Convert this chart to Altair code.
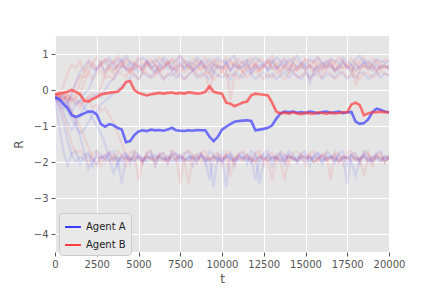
import altair as alt
import pandas as pd

# main lines sampled every 250 steps
t_main = list(range(0, 20001, 250))
agent_a = [-0.20, -0.25, -0.38, -0.50, -0.70, -0.75, -0.70, -0.65, -0.60, -0.60,
           -0.68, -0.95, -1.02, -0.95, -0.98, -1.05, -1.10, -1.45, -1.42, -1.25,
           -1.15, -1.12, -1.14, -1.10, -1.12, -1.11, -1.13, -1.10, -1.05, -1.12,
           -1.13, -1.14, -1.12, -1.13, -1.11, -1.12, -1.12, -1.30, -1.42, -1.30,
           -1.10, -1.02, -0.95, -0.88, -0.86, -0.85, -0.84, -0.86, -1.12, -1.10,
           -1.08, -1.05, -0.98, -0.80, -0.65, -0.60, -0.62, -0.60, -0.63, -0.61,
           -0.64, -0.60, -0.62, -0.65, -0.61, -0.60, -0.63, -0.62, -0.60, -0.64,
           -0.62, -0.61, -0.88, -0.94, -0.92, -0.82, -0.62, -0.52, -0.55, -0.60,
           -0.62]
agent_b = [-0.12, -0.10, -0.08, -0.05, 0.00, -0.05, -0.12, -0.30, -0.32, -0.25,
           -0.20, -0.12, -0.10, -0.08, -0.06, -0.05, 0.05, 0.22, 0.25, 0.00,
           -0.08, -0.12, -0.15, -0.12, -0.10, -0.08, -0.10, -0.08, -0.07, -0.10,
           -0.08, -0.10, -0.06, -0.08, -0.10, -0.09, -0.05, 0.10, -0.05, -0.08,
           -0.10, -0.35, -0.38, -0.45, -0.40, -0.35, -0.32, -0.15, -0.10, -0.12,
           -0.13, -0.15, -0.35, -0.60, -0.65, -0.63, -0.66, -0.62, -0.65, -0.67,
           -0.63, -0.65, -0.66, -0.62, -0.64, -0.66, -0.63, -0.65, -0.64, -0.62,
           -0.62, -0.40, -0.35, -0.42, -0.70, -0.65, -0.62, -0.62, -0.60, -0.62,
           -0.62]

# faint individual runs, evenly spaced over 0..20000
runs_b = {
    "T1": [-0.15,-0.1,0.1,0.45,0.7,0.6,0.8,0.5,0.65,0.75,0.55,0.7,0.85,0.6,0.45,0.7,0.65,0.8,0.55,0.6,0.75,0.5,0.65,0.8,0.7,0.55,0.6,0.75,0.85,0.6,0.5,0.7,0.65,0.55,0.8,0.6,0.7,0.45,0.65,0.75,0.6,0.7,0.55,0.8,0.65,0.5,0.7,0.6,0.75,0.55,0.65,0.8,0.6,0.7,0.5,0.65,0.75,0.6,0.55,0.7,0.85,0.6,0.65,0.5,0.7,0.6,0.75,0.55,0.65,0.8,0.6,0.7,0.1,0.55,0.65,0.75,0.6,0.5,0.7,0.65,0.6],
    "T2": [-0.2,-0.15,-0.25,-0.1,-0.3,-0.2,-0.1,0.2,0.5,0.7,0.6,0.75,0.5,0.65,0.8,0.55,0.7,0.6,0.45,0.75,0.65,0.55,0.8,0.6,0.7,0.5,0.65,0.75,0.6,0.55,0.7,0.8,0.6,0.65,0.5,0.75,0.6,-0.1,0.5,0.7,0.65,0.55,0.8,0.6,0.7,0.5,0.65,0.75,0.6,0.55,0.7,0.6,0.8,0.65,0.5,0.7,0.6,0.75,0.55,0.65,0.6,0.7,0.5,0.75,0.6,0.65,0.8,0.55,0.7,0.6,0.65,0.5,0.75,0.6,0.7,0.55,0.65,0.8,0.6,0.7,0.6],
    "T3": [-0.1,-0.2,-0.3,-0.15,-0.4,-0.3,-0.5,-0.3,-0.2,-0.1,-0.2,0.1,0.4,0.65,0.55,0.7,0.8,0.6,0.5,0.7,0.65,0.55,0.75,0.6,0.45,0.7,0.6,0.8,0.55,0.65,0.7,0.5,0.6,0.75,0.65,0.55,0.7,0.6,0.8,0.6,0.5,0.7,-0.3,0.4,0.65,0.75,0.55,0.6,0.7,0.5,0.65,0.8,0.6,0.55,0.7,0.65,0.5,0.75,0.6,0.7,0.55,0.65,0.8,0.6,0.5,0.7,0.6,0.75,0.55,0.65,0.7,0.6,0.5,0.75,0.65,0.6,0.7,0.55,0.65,0.6,0.7],
    "T6": [-0.1,-0.2,-0.1,-0.3,-0.1,0.2,0.4,0.35,0.5,0.3,0.45,0.55,0.35,0.4,0.3,0.5,0.45,0.35,0.6,0.4,0.3,0.45,0.5,0.35,0.4,0.55,0.3,0.45,0.4,0.5,0.35,0.3,0.45,0.55,0.4,0.35,0.5,0.45,0.3,0.4,0.55,0.35,0.45,0.4,0.3,0.5,0.35,0.45,0.55,0.4,0.3,0.45,0.35,0.5,0.4,0.3,0.45,0.55,0.35,0.4,0.5,0.3,0.45,0.4,0.35,0.55,0.45,0.3,0.4,0.5,0.35,0.45,0.4,0.3,0.5,0.45,0.35,0.4,0.55,0.45,0.4],
    "T9": [-0.15,-0.2,-0.1,-0.3,-0.2,-0.1,0.2,0.5,0.8,0.75,0.9,0.7,0.85,0.8,0.75,0.95,0.7,0.85,0.8,0.75,0.9,0.7,0.8,0.85,0.75,0.9,0.8,0.7,0.85,0.75,0.95,0.8,0.7,0.85,0.8,0.75,0.9,0.7,0.85,0.8,0.75,0.9,0.8,0.7,0.85,0.75,0.8,0.9,0.7,0.85,0.8,0.75,0.95,0.7,0.8,0.85,0.75,0.9,0.8,0.7,0.85,0.8,0.75,0.9,0.7,0.8,0.85,0.75,0.9,0.8,0.7,0.85,0.75,0.8,0.9,0.7,0.85,0.8,0.75,0.85,0.8],
    "U4": [-0.15,-0.2,-0.3,-0.4,-0.6,-0.8,-1.0,-1.3,-1.6,-1.9,-2.1,-1.85,-1.9,-2.0,-1.8,-1.95,-1.85,-1.9,-2.0,-1.8,-2.5,-1.9,-1.85,-1.95,-1.9,-1.8,-2.0,-1.85,-1.9,-1.95,-1.8,-1.9,-2.0,-1.85,-1.9,-1.8,-1.95,-1.9,-1.85,-2.0,-1.9,-1.8,-2.4,-1.85,-1.9,-1.95,-1.8,-1.9,-2.0,-1.85,-1.9,-1.95,-2.5,-1.85,-1.9,-2.0,-1.8,-1.9,-1.95,-1.85,-1.9,-1.8,-2.0,-1.9,-1.85,-1.95,-1.9,-1.8,-2.0,-1.85,-1.9,-1.95,-1.85,-1.9,-2.4,-1.8,-1.95,-1.9,-1.85,-2.0,-1.9],
    "U5": [-0.2,-0.1,-0.25,-0.15,-0.3,-0.2,-0.4,-0.3,-0.2,-0.5,-0.4,-0.6,-0.5,-0.7,-0.9,-1.2,-1.5,-1.8,-1.95,-1.85,-1.9,-2.0,-1.8,-1.9,-1.95,-1.85,-1.9,-2.0,-1.8,-1.9,-1.85,-1.95,-2.6,-1.9,-1.8,-2.0,-1.85,-1.9,-1.95,-1.8,-1.9,-1.85,-2.0,-1.9,-1.8,-1.95,-1.85,-1.9,-2.0,-1.8,-1.9,-1.95,-1.85,-1.9,-2.0,-2.5,-1.85,-1.9,-1.95,-1.8,-1.9,-1.85,-2.0,-1.9,-1.8,-1.95,-1.85,-1.9,-2.0,-1.85,-1.9,-1.8,-1.95,-1.9,-1.85,-2.0,-1.9,-1.8,-1.95,-1.85,-1.9],
    "U6": [-0.2,-0.4,-0.7,-1.1,-1.5,-1.75,-1.7,-1.8,-2.05,-1.75,-1.7,-2.1,-1.8,-1.75,-2.0,-1.7,-1.8,-2.1,-1.75,-1.7,-1.85,-2.05,-1.75,-1.7,-2.1,-1.8,-1.75,-2.0,-1.7,-1.8,-2.6,-1.75,-1.7,-1.85,-2.05,-1.75,-1.7,-2.0,-1.8,-1.75,-2.1,-1.7,-1.8,-2.05,-1.75,-1.7,-1.85,-2.0,-1.75,-1.7,-2.1,-1.8,-1.75,-2.0,-1.7,-1.8,-2.05,-1.75,-1.7,-1.85,-2.1,-1.75,-1.7,-2.0,-1.8,-1.75,-2.5,-1.7,-1.8,-2.05,-1.75,-1.7,-1.85,-2.0,-1.75,-1.7,-2.1,-1.8,-1.75,-2.0,-1.8],
}
runs_a = {
    "T4": [-0.2,-0.3,-0.2,-0.4,-0.1,0.2,0.5,0.65,0.8,0.6,0.55,0.7,0.5,0.75,0.6,0.65,0.85,0.55,0.6,0.7,0.5,0.65,0.75,0.6,0.7,0.55,0.8,0.6,0.65,0.5,0.7,0.6,0.75,0.55,0.65,0.8,0.6,0.7,0.5,0.65,0.6,0.75,0.55,0.7,0.6,0.65,0.8,0.5,0.7,0.6,0.75,0.55,0.65,0.6,0.7,0.85,0.6,0.5,0.65,0.75,0.6,0.7,0.55,0.65,0.6,0.8,0.7,0.55,0.6,0.75,0.65,0.5,0.7,0.6,0.8,0.65,0.55,0.7,0.6,0.65,0.6],
    "T5": [-0.2,-0.4,-0.6,-0.9,-1.1,-0.9,-0.7,-0.5,-0.3,-0.2,-0.1,-0.2,0.0,0.2,0.3,0.5,0.65,0.6,0.75,0.55,0.7,0.6,0.8,0.65,0.5,0.7,0.6,0.75,0.55,0.65,0.8,0.6,0.7,0.55,0.65,0.75,0.6,0.5,0.7,0.65,0.6,0.8,0.55,0.7,0.6,0.65,0.75,0.5,0.6,0.7,0.65,0.55,0.8,0.6,0.7,0.6,0.5,0.75,0.65,0.6,0.7,0.2,0.55,0.65,0.75,0.6,0.7,0.5,0.65,0.8,0.6,0.7,0.55,0.65,0.75,0.6,0.7,0.55,0.65,0.7,0.6],
    "T7": [-0.2,-0.3,-0.5,-0.4,-0.6,-0.4,-0.3,-0.1,0.0,0.3,0.6,0.8,0.75,0.9,0.7,0.85,0.8,0.95,0.75,0.7,0.85,0.9,0.8,0.7,0.85,0.75,0.9,0.8,0.7,0.85,0.95,0.75,0.8,0.7,0.9,0.8,0.75,0.85,0.7,0.9,0.8,0.75,0.85,0.95,0.7,0.8,0.85,0.75,0.9,0.8,0.7,0.85,0.75,0.9,0.8,0.7,0.85,0.8,0.95,0.75,0.7,0.85,0.8,0.9,0.75,0.7,0.85,0.8,0.75,0.9,0.8,0.7,0.85,0.95,0.75,0.8,0.7,0.85,0.8,0.75,0.8],
    "T8": [-0.2,-0.3,-0.45,-0.6,-0.8,-1.0,-1.2,-1.1,-0.9,-0.7,-0.6,-0.4,-0.3,-0.2,-0.1,0.0,0.1,0.2,0.35,0.45,0.3,0.5,0.4,0.35,0.55,0.45,0.3,0.4,0.5,0.35,0.45,0.3,0.4,0.55,0.35,0.45,0.4,0.3,0.5,0.4,0.35,0.45,0.3,0.5,0.4,0.35,0.55,0.45,0.3,0.4,0.5,0.35,0.45,0.3,0.4,0.5,0.35,0.45,0.4,0.3,0.5,0.35,0.4,0.55,0.3,0.45,0.4,0.35,0.5,0.45,0.3,0.4,0.35,0.5,0.45,0.3,0.4,0.5,0.35,0.45,0.4],
    "U1": [-0.2,-0.5,-0.9,-1.4,-1.8,-2.0,-1.85,-1.95,-1.8,-1.9,-2.05,-1.85,-1.9,-1.75,-1.95,-1.9,-2.6,-1.85,-1.9,-2.0,-1.8,-1.95,-1.85,-1.9,-2.0,-1.8,-1.9,-1.95,-1.85,-1.75,-1.9,-2.0,-1.85,-1.9,-1.95,-1.8,-1.9,-2.5,-1.85,-1.9,-2.0,-1.8,-1.9,-1.95,-1.85,-1.9,-1.8,-2.0,-1.9,-1.85,-1.95,-1.8,-1.9,-1.85,-2.0,-1.9,-1.8,-1.95,-1.85,-1.9,-2.0,-1.85,-1.9,-1.75,-1.95,-1.9,-1.85,-2.0,-1.8,-1.9,-2.6,-1.85,-1.9,-1.95,-1.8,-1.9,-2.0,-1.85,-1.9,-1.95,-1.9],
    "U2": [-0.2,-0.25,-0.4,-0.3,-0.6,-0.9,-1.3,-1.7,-2.2,-2.0,-1.85,-1.9,-1.8,-1.95,-1.9,-1.85,-2.0,-1.8,-1.9,-1.95,-1.85,-1.9,-2.0,-1.8,-1.9,-1.85,-1.95,-1.9,-1.8,-2.0,-1.85,-1.9,-1.95,-1.8,-1.9,-1.85,-2.0,-1.9,-2.7,-1.8,-1.95,-1.85,-1.9,-2.0,-1.8,-1.9,-1.95,-1.85,-2.5,-1.9,-1.8,-2.0,-1.85,-1.9,-1.95,-1.8,-1.9,-1.85,-2.0,-1.9,-1.8,-1.95,-1.85,-1.9,-2.0,-1.85,-1.9,-1.8,-1.95,-1.9,-1.85,-2.0,-2.4,-1.9,-1.8,-1.95,-1.85,-1.9,-2.0,-1.85,-1.9],
    "U3": [-0.1,-0.2,-0.15,-0.3,-0.2,-0.4,-0.3,-0.5,-0.6,-0.8,-1.0,-1.2,-1.5,-1.9,-2.3,-2.0,-1.85,-1.9,-1.95,-1.8,-1.9,-2.0,-1.85,-1.9,-1.8,-1.95,-1.9,-1.85,-2.0,-1.9,-1.8,-1.95,-1.85,-1.9,-2.0,-1.8,-1.9,-1.95,-1.85,-1.9,-2.0,-1.85,-1.8,-1.9,-1.95,-1.85,-1.9,-2.0,-1.8,-2.6,-1.9,-1.85,-1.95,-1.9,-1.8,-2.0,-1.85,-1.9,-1.95,-1.8,-1.9,-1.85,-2.0,-1.9,-1.8,-1.95,-1.85,-1.9,-2.0,-1.85,-1.9,-1.8,-1.95,-1.9,-1.85,-2.0,-1.9,-1.8,-1.95,-1.85,-1.9],
    "U7": [-0.2,-1.0,-1.7,-2.1,-1.75,-1.7,-2.05,-1.8,-1.75,-2.1,-1.7,-1.8,-2.0,-1.75,-1.7,-2.1,-1.8,-1.75,-2.05,-1.7,-1.8,-2.0,-1.75,-1.7,-2.1,-1.8,-1.75,-2.05,-1.7,-1.8,-2.0,-1.75,-1.7,-2.1,-1.8,-1.75,-2.05,-1.7,-1.8,-2.0,-1.75,-2.7,-1.7,-2.1,-1.8,-1.75,-2.05,-1.7,-1.8,-2.0,-1.75,-1.7,-2.1,-1.8,-1.75,-2.05,-1.7,-1.8,-2.0,-1.75,-1.7,-2.1,-1.8,-1.75,-2.05,-1.7,-1.8,-2.0,-1.75,-1.7,-2.1,-1.8,-1.75,-2.05,-1.7,-1.8,-2.0,-1.75,-1.7,-2.0,-1.8],
}

x_ticks = [0, 2500, 5000, 7500, 10000, 12500, 15000, 17500, 20000]
y_ticks = [-4, -3, -2, -1, 0, 1]
agents = ["Agent A", "Agent B"]
colors = ["#3b3bff", "#ff3b3b"]

main_rows = []
for name, vals in zip(agents, [agent_a, agent_b]):
    for t, v in zip(t_main, vals):
        main_rows.append({"t": t, "R": v, "agent": name})
main_df = pd.DataFrame(main_rows)

faint_rows = []
for name, runs in [("Agent A", runs_a), ("Agent B", runs_b)]:
    for run, vals in runs.items():
        n = len(vals)
        for i, v in enumerate(vals):
            faint_rows.append({"t": i * 20000 / (n - 1), "R": v, "agent": name, "run": run})
faint_df = pd.DataFrame(faint_rows)

xscale = alt.Scale(domain=[0, 20000], nice=False, zero=False)
yscale = alt.Scale(domain=[-4.5, 1.5], nice=False, zero=False)
cscale = alt.Scale(domain=agents, range=colors)

x_enc = alt.X("t:Q", scale=xscale, title="t",
              axis=alt.Axis(values=x_ticks, format="d", labelOverlap=False,
                            labelFlush=False))
y_enc = alt.Y("R:Q", scale=yscale, title="R",
              axis=alt.Axis(values=y_ticks, format="d", labelFlush=False))

legend = alt.Legend(orient="none", legendX=4, legendY=177, title=None,
                    symbolType="stroke", symbolStrokeWidth=2,
                    symbolSize=250, symbolOpacity=1,
                    labelFontSize=10, labelColor="#222222",
                    labelFont="DejaVu Sans",
                    fillColor="#e9e9e9", strokeColor="#cccccc",
                    padding=5, cornerRadius=3, rowPadding=4)

faint = alt.Chart(faint_df).mark_line(strokeWidth=2.5, opacity=0.1, clip=True).encode(
    x=x_enc, y=y_enc,
    color=alt.Color("agent:N", scale=cscale, legend=legend),
    detail="run:N",
)

main = alt.Chart(main_df).mark_line(strokeWidth=2.6, opacity=0.7, clip=True).encode(
    x=x_enc, y=y_enc,
    color=alt.Color("agent:N", scale=cscale, legend=legend),
)

chart = alt.layer(faint, main).properties(
    width=334, height=216,
    autosize=alt.AutoSizeParams(type="none"),
    padding={"left": 47, "top": 28, "right": 35, "bottom": 40},
).configure_view(
    fill="#e5e5e5", stroke=None,
).configure_axis(
    grid=True, gridColor="#ffffff", gridWidth=1,
    domain=False, tickColor="#555555", tickSize=4,
    labelColor="#555555", labelFontSize=10, labelFont="DejaVu Sans",
    titleColor="#555555", titleFontSize=12, titleFont="DejaVu Sans",
    titleFontWeight="normal", labelPadding=3,
).configure_axisX(titlePadding=4).configure_axisY(titlePadding=8)

chart.save("out.html", embed_options={"renderer": "svg", "actions": False})
